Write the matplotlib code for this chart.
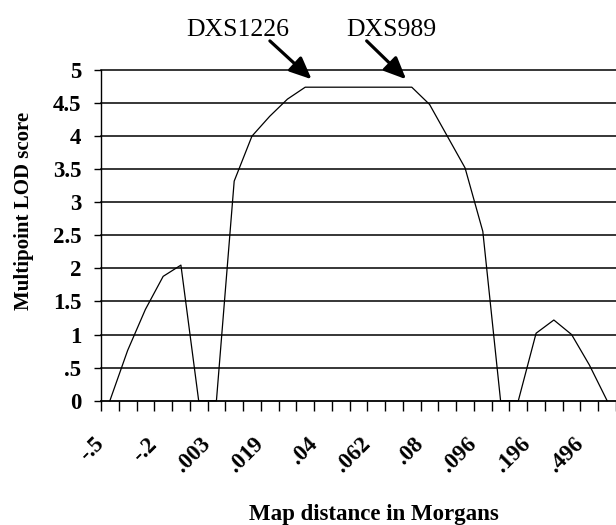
import matplotlib
matplotlib.use("Agg")
import matplotlib.pyplot as plt
import matplotlib.transforms as mtransforms
import numpy as np

# ---- data ----
lod_scores = [0.0, 0.76, 1.38, 1.88, 2.05, 0.0, 0.0, 3.32, 4.0, 4.3, 4.56, 4.74,
              4.74, 4.74, 4.74, 4.74, 4.74, 4.74, 4.48, 4.0, 3.52, 2.56, 0.0, 0.0,
              1.02, 1.22, 1.0, 0.54, 0.0]
x_tick_labels = ["-.5", "-.2", ".003", ".019", ".04", ".062", ".08", ".096", ".196", ".496"]
y_ticks = [0, 0.5, 1, 1.5, 2, 2.5, 3, 3.5, 4, 4.5, 5]
y_tick_labels = ["0", ".5", "1", "1.5", "2", "2.5", "3", "3.5", "4", "4.5", "5"]
markers = ["DXS1226", "DXS989"]
marker_arrow_tip = [(11.36, 4.86), (16.68, 4.86)]
marker_arrow_tail = [(9.01, 5.44), (14.46, 5.44)]
marker_text_pos = [(7.18, 5.51), (15.86, 5.51)]

serif = ["Liberation Serif", "DejaVu Serif"]
plt.rcParams["font.family"] = serif

W, H = 616, 525
fig = plt.figure(figsize=(W / 100, H / 100), dpi=100)
left_px, right_px, top_px, bottom_px = 101, 616, 70, 400.7
ax = fig.add_axes([left_px / W, 1 - bottom_px / H,
                   (right_px - left_px) / W, (bottom_px - top_px) / H])

n = len(lod_scores)
xs = np.arange(n)
ax.plot(xs, lod_scores, color="black", lw=0.9, zorder=3, clip_on=False)

ax.set_xlim(-0.5, n - 0.5)
ax.set_ylim(0, 5)

for yv in y_ticks[1:]:
    ax.axhline(yv, color="black", lw=1.1, zorder=1, clip_on=False)

# spines
for s in ["top", "right"]:
    ax.spines[s].set_visible(False)
ax.spines["left"].set_linewidth(1.0)
ax.spines["bottom"].set_linewidth(1.3)

# y ticks
ax.set_yticks(y_ticks)
ax.set_yticklabels(y_tick_labels, fontsize=16.5, fontweight="bold")
ax.tick_params(axis="y", direction="out", length=5, width=1.0, pad=9)

# x ticks: boundaries (major) and labels (minor)
ax.set_xticks(np.arange(-0.5, n, 1.0))
ax.set_xticklabels([])
ax.tick_params(axis="x", which="major", direction="out", length=7, width=1.0)
ax.set_xticks(np.arange(0, n, 3), minor=True)
ax.set_xticklabels(x_tick_labels, minor=True, rotation=45, ha="right",
                   va="center", rotation_mode="anchor", fontsize=16.5,
                   fontweight="bold")
ax.tick_params(axis="x", which="minor", length=0, pad=29)
shift = mtransforms.ScaledTranslation(-9 / 100, 0, fig.dpi_scale_trans)
for lab in ax.get_xticklabels(minor=True):
    lab.set_transform(lab.get_transform() + shift)

# axis labels
fig.text(24 / W, 1 - 211 / H, "Multipoint LOD score", rotation=90,
         ha="center", va="center", fontsize=15, fontweight="bold")
fig.text(374 / W, 1 - 520 / H, "Map distance in Morgans",
         ha="center", va="baseline", fontsize=16.5, fontweight="bold")

# marker annotations
for name, tip, tail, tpos in zip(markers, marker_arrow_tip, marker_arrow_tail,
                                 marker_text_pos):
    ax.annotate("", xy=tip, xytext=tail, xycoords="data", textcoords="data",
                arrowprops=dict(arrowstyle="-|>,head_length=0.95,head_width=0.42",
                                mutation_scale=14, color="black", lw=2.3,
                                shrinkA=0, shrinkB=0),
                annotation_clip=False)
    ax.text(tpos[0], tpos[1], name, ha="center", va="baseline", fontsize=18.5,
            clip_on=False)

fig.savefig("out.png", dpi=100)
